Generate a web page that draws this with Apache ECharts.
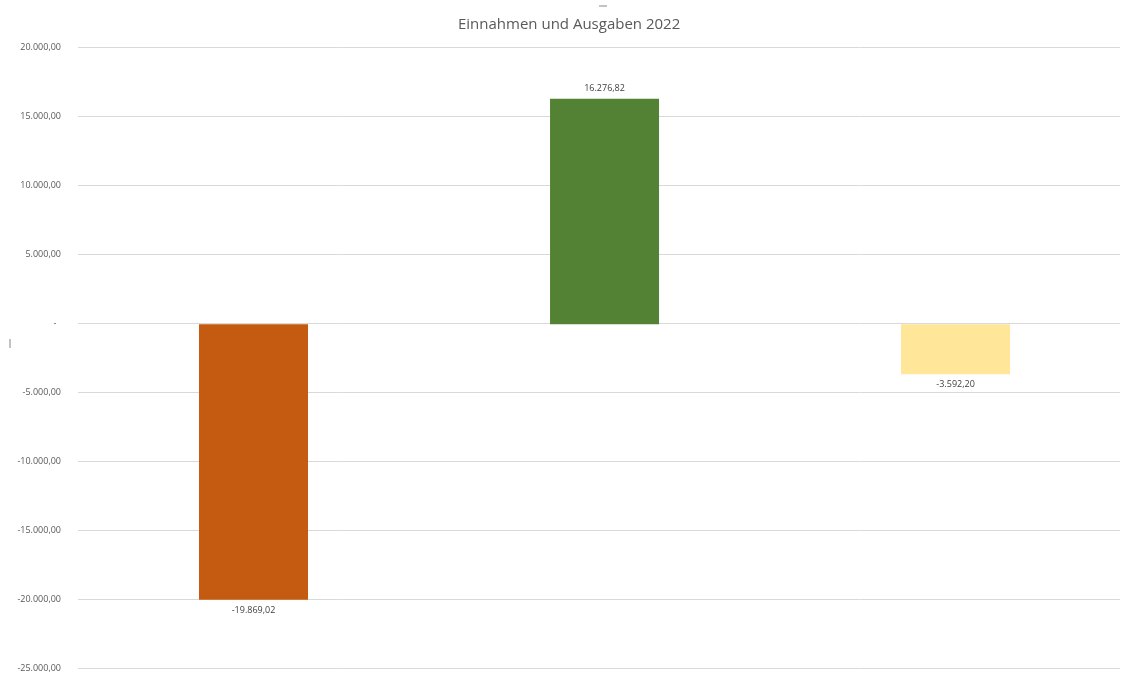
<!DOCTYPE html>
<html>
<head>
<meta charset="utf-8">
<script src="https://cdn.jsdelivr.net/npm/echarts@6/dist/echarts.min.js"></script>
<style>html,body{margin:0;padding:0;background:#fff}#c{width:1123px;height:673px}</style>
</head>
<body>
<div id="c"></div>
<script>
const categories = ['Ausgaben', 'Einnahmen', 'Saldo'];
const values = [-19869.02, 16276.82, -3592.20];
const barColors = ['#C55A11', '#548235', '#FFE699'];
const titleText = 'Einnahmen und Ausgaben 2022';

function fmt(v) {
  if (Math.abs(v) < 1e-9) return '-  ';
  const neg = v < 0;
  const a = Math.abs(v).toFixed(2).split('.');
  const int = a[0].replace(/\B(?=(\d{3})+(?!\d))/g, '.');
  return (neg ? '-' : '') + int + ',' + a[1];
}

const chart = echarts.init(document.getElementById('c'));
chart.setOption({
  animation: false,
  title: {
    text: titleText, left: 453, top: 12,
    textStyle: { fontFamily: 'Open Sans', fontSize: 15, fontWeight: 'normal', color: '#595959' }
  },
  grid: [
    { left: 78, right: 3, top: 47, bottom: 2, containLabel: false },
    { left: 78, right: 0, top: 47, bottom: 2, containLabel: false }
  ],
  xAxis: [
    { type: 'category', gridIndex: 0, data: categories, show: false },
    { type: 'value', gridIndex: 1, min: -0.5, max: 2.477, show: false }
  ],
  yAxis: [
    {
      type: 'value', gridIndex: 0, min: -25000, max: 20000, interval: 5000,
      axisLine: { show: false }, axisTick: { show: false },
      axisLabel: { formatter: fmt, fontFamily: 'Open Sans', fontSize: 9, color: '#595959', margin: 17 },
      splitLine: { lineStyle: { color: '#d9d9d9', width: 1 } }
    },
    {
      type: 'value', gridIndex: 1, min: -25000, max: 20000, interval: 5000,
      axisLine: { show: false }, axisTick: { show: false }, axisLabel: { show: false },
      splitLine: { show: false }
    }
  ],
  series: [{
    type: 'bar', xAxisIndex: 1, yAxisIndex: 1, barWidth: 109,
    data: values.map((v, i) => ({
      name: categories[i],
      value: [i, v],
      itemStyle: { color: barColors[i] },
      label: { position: v < 0 ? 'bottom' : 'top' }
    })),
    label: {
      show: true, formatter: p => fmt(p.value[1]), distance: 6,
      fontFamily: 'Open Sans', fontSize: 9, color: '#404040'
    }
  }],
  graphic: [
    { type: 'line', shape: { x1: 599, y1: 6, x2: 607, y2: 6 }, style: { stroke: '#888', lineWidth: 1 } },
    { type: 'line', shape: { x1: 10, y1: 339, x2: 10, y2: 348 }, style: { stroke: '#888', lineWidth: 1 } }
  ]
});
</script>
</body>
</html>
